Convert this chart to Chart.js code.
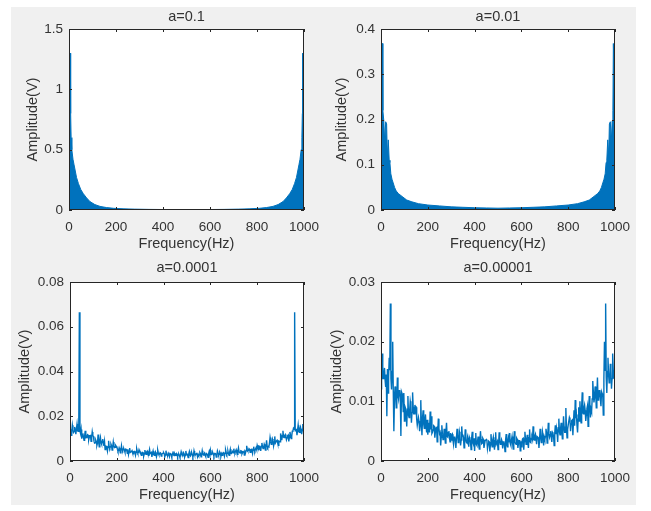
<!DOCTYPE html>
<html><head><meta charset="utf-8">
<script src="https://cdn.jsdelivr.net/npm/chart.js@4.4.1/dist/chart.umd.min.js"></script>
<style>
html,body{margin:0;padding:0;background:#fff;}
#wrap{position:relative;width:651px;height:511px;overflow:hidden;background:#fff;}
#fig{position:absolute;left:11px;top:7px;width:625px;height:498px;background:#f0f0f0;}
canvas{position:absolute;left:0;top:0;}
</style></head><body>
<div id="wrap"><div id="fig"></div>
<canvas id="c1" width="651" height="511"></canvas>
<canvas id="c2" width="651" height="511"></canvas>
<canvas id="c3" width="651" height="511"></canvas>
<canvas id="c4" width="651" height="511"></canvas>
</div>
<script>
// ---------- data ----------
const titles = ['a=0.1', 'a=0.01', 'a=0.0001', 'a=0.00001'];
const xTitle = 'Frequency(Hz)';
const yTitle = 'Amplitude(V)';
const xTickVals = [0, 200, 400, 600, 800, 1000];
const xTickLabels = ['0', '200', '400', '600', '800', '1000'];

const yTickValsA = [0, 0.5, 1, 1.5];
const yTickLabelsA = ['0', '0.5', '1', '1.5'];
const yTickValsB = [0, 0.1, 0.2, 0.3, 0.4];
const yTickLabelsB = ['0', '0.1', '0.2', '0.3', '0.4'];
const yTickValsC = [0, 0.02, 0.04, 0.06, 0.08];
const yTickLabelsC = ['0', '0.02', '0.04', '0.06', '0.08'];
const yTickValsD = [0, 0.01, 0.02, 0.03];
const yTickLabelsD = ['0', '0.01', '0.02', '0.03'];

// a=0.1 (envelope of the dense spectrum)
const freqA = [0,4,6,7,9,12,17,21,25,32,40,50,61,75,89,110,132,160,190,230,280,340,400,450,500,
  550,600,660,720,770,810,840,868,890,911,925,939,950,960,968,975,979,983,988,991,993,994,996,1000];
const ampA = [0.62,0.62,1.30,0.80,0.60,0.50,0.42,0.38,0.34,0.27,0.22,0.17,0.135,0.10,0.07,0.045,0.03,0.02,0.014,0.010,0.007,0.005,0.004,0.0035,0.003,
  0.0035,0.004,0.005,0.007,0.010,0.014,0.02,0.03,0.045,0.07,0.10,0.135,0.17,0.22,0.27,0.34,0.38,0.42,0.50,0.60,0.80,1.30,0.62,0.62];

// a=0.01
const freqB = [0,3,6,8,12,16,20,24,27,31,35,38,42,47,52,58,65,75,90,110,132,160,200,250,300,350,400,450,500,
  550,600,650,700,750,800,840,868,890,910,925,935,942,948,953,958,962,965,969,973,976,980,984,988,991,993,996,1000];
const ampB = [0.12,0.30,0.368,0.22,0.197,0.15,0.195,0.19,0.12,0.155,0.11,0.105,0.08,0.068,0.06,0.05,0.042,0.036,0.03,0.022,0.018,0.014,0.011,0.009,0.007,0.006,0.005,0.0045,0.004,
  0.0045,0.005,0.006,0.007,0.009,0.011,0.014,0.018,0.022,0.03,0.036,0.042,0.05,0.06,0.068,0.08,0.105,0.11,0.155,0.12,0.19,0.195,0.15,0.197,0.22,0.368,0.30,0.12];

// shared fine frequency grid (2.5 Hz) for the two lower panels
const freqFine = [
  0,2.5,5,7.5,10,12.5,15,17.5,20,22.5,25,27.5,30,32.5,35,37.5,40,42.5,45,47.5,
  50,52.5,55,57.5,60,62.5,65,67.5,70,72.5,75,77.5,80,82.5,85,87.5,90,92.5,95,97.5,
  100,102.5,105,107.5,110,112.5,115,117.5,120,122.5,125,127.5,130,132.5,135,137.5,140,142.5,145,147.5,
  150,152.5,155,157.5,160,162.5,165,167.5,170,172.5,175,177.5,180,182.5,185,187.5,190,192.5,195,197.5,
  200,202.5,205,207.5,210,212.5,215,217.5,220,222.5,225,227.5,230,232.5,235,237.5,240,242.5,245,247.5,
  250,252.5,255,257.5,260,262.5,265,267.5,270,272.5,275,277.5,280,282.5,285,287.5,290,292.5,295,297.5,
  300,302.5,305,307.5,310,312.5,315,317.5,320,322.5,325,327.5,330,332.5,335,337.5,340,342.5,345,347.5,
  350,352.5,355,357.5,360,362.5,365,367.5,370,372.5,375,377.5,380,382.5,385,387.5,390,392.5,395,397.5,
  400,402.5,405,407.5,410,412.5,415,417.5,420,422.5,425,427.5,430,432.5,435,437.5,440,442.5,445,447.5,
  450,452.5,455,457.5,460,462.5,465,467.5,470,472.5,475,477.5,480,482.5,485,487.5,490,492.5,495,497.5,
  500,502.5,505,507.5,510,512.5,515,517.5,520,522.5,525,527.5,530,532.5,535,537.5,540,542.5,545,547.5,
  550,552.5,555,557.5,560,562.5,565,567.5,570,572.5,575,577.5,580,582.5,585,587.5,590,592.5,595,597.5,
  600,602.5,605,607.5,610,612.5,615,617.5,620,622.5,625,627.5,630,632.5,635,637.5,640,642.5,645,647.5,
  650,652.5,655,657.5,660,662.5,665,667.5,670,672.5,675,677.5,680,682.5,685,687.5,690,692.5,695,697.5,
  700,702.5,705,707.5,710,712.5,715,717.5,720,722.5,725,727.5,730,732.5,735,737.5,740,742.5,745,747.5,
  750,752.5,755,757.5,760,762.5,765,767.5,770,772.5,775,777.5,780,782.5,785,787.5,790,792.5,795,797.5,
  800,802.5,805,807.5,810,812.5,815,817.5,820,822.5,825,827.5,830,832.5,835,837.5,840,842.5,845,847.5,
  850,852.5,855,857.5,860,862.5,865,867.5,870,872.5,875,877.5,880,882.5,885,887.5,890,892.5,895,897.5,
  900,902.5,905,907.5,910,912.5,915,917.5,920,922.5,925,927.5,930,932.5,935,937.5,940,942.5,945,947.5,
  950,952.5,955,957.5,960,962.5,965,967.5,970,972.5,975,977.5,980,982.5,985,987.5,990,992.5,995,997.5,
  1000];

// a=0.0001
const ampC = [
  .0141,.0142,.0115,.0134,.0160,.0140,.0128,.0132,.0152,.0138,.0120,.0144,.0165,.0135,.0133,.0142,.0665,.0134,.0123,.0141,
  .0100,.0114,.0123,.0106,.0093,.0112,.0135,.0104,.0105,.0110,.0118,.0116,.0095,.0107,.0113,.0114,.0088,.0106,.0130,.0113,
  .0110,.0089,.0080,.0081,.0093,.0086,.0070,.0080,.0118,.0085,.0063,.0090,.0105,.0083,.0075,.0089,.0098,.0081,.0068,.0087,
  .0051,.0067,.0066,.0061,.0045,.0065,.0090,.0060,.0056,.0064,.0075,.0068,.0049,.0062,.0085,.0067,.0060,.0061,.0070,.0066,
  .0064,.0053,.0043,.0047,.0059,.0051,.0037,.0046,.0068,.0050,.0046,.0054,.0055,.0048,.0039,.0053,.0052,.0047,.0034,.0052,
  .0030,.0044,.0058,.0038,.0038,.0042,.0046,.0037,.0032,.0041,.0043,.0045,.0027,.0039,.0055,.0044,.0035,.0038,.0050,.0043,
  .0041,.0039,.0026,.0033,.0038,.0037,.0022,.0032,.0049,.0036,.0030,.0040,.0044,.0034,.0025,.0039,.0052,.0033,.0033,.0038,
  .0018,.0035,.0045,.0029,.0026,.0033,.0040,.0028,.0021,.0032,.0048,.0036,.0029,.0030,.0037,.0035,.0022,.0029,.0034,.0034,
  .0038,.0033,.0019,.0027,.0046,.0031,.0027,.0026,.0035,.0030,.0020,.0034,.0032,.0028,.0016,.0033,.0043,.0027,.0024,.0032,
  .0026,.0032,.0034,.0026,.0019,.0030,.0031,.0025,.0015,.0029,.0042,.0033,.0023,.0027,.0037,.0032,.0018,.0026,.0045,.0031,
  .0031,.0026,.0015,.0032,.0042,.0027,.0023,.0031,.0037,.0029,.0018,.0025,.0045,.0033,.0026,.0026,.0034,.0032,.0019,.0030,
  .0024,.0027,.0038,.0033,.0019,.0028,.0046,.0032,.0027,.0030,.0035,.0026,.0020,.0034,.0032,.0027,.0016,.0033,.0043,.0031,
  .0048,.0029,.0029,.0035,.0037,.0030,.0022,.0034,.0034,.0032,.0018,.0028,.0045,.0036,.0026,.0029,.0040,.0035,.0021,.0033,
  .0026,.0033,.0038,.0039,.0022,.0034,.0049,.0038,.0030,.0036,.0044,.0032,.0025,.0040,.0052,.0033,.0033,.0039,.0041,.0037,
  .0055,.0038,.0035,.0044,.0050,.0039,.0030,.0043,.0058,.0041,.0038,.0037,.0046,.0045,.0032,.0038,.0043,.0044,.0027,.0042,
  .0037,.0047,.0068,.0053,.0046,.0048,.0055,.0052,.0039,.0050,.0052,.0046,.0034,.0054,.0064,.0047,.0043,.0053,.0059,.0051,
  .0070,.0061,.0051,.0067,.0066,.0062,.0045,.0066,.0081,.0064,.0056,.0060,.0075,.0068,.0049,.0061,.0092,.0067,.0060,.0065,
  .0063,.0081,.0105,.0089,.0075,.0082,.0098,.0088,.0068,.0085,.0110,.0080,.0080,.0090,.0093,.0081,.0070,.0089,.0088,.0086,
  .0123,.0106,.0093,.0114,.0135,.0107,.0105,.0113,.0118,.0110,.0095,.0104,.0113,.0116,.0088,.0106,.0130,.0114,.0100,.0111,
  .0133,.0134,.0146,.0142,.0665,.0135,.0141,.0141,.0115,.0138,.0160,.0132,.0128,.0144,.0152,.0134,.0120,.0142,.0165,.0139,
  .0160];

// a=0.00001
const ampD = [
  .0121,.0152,.0180,.0138,.0138,.0147,.0156,.0136,.0124,.0145,.0075,.0154,.0114,.0140,.0173,.0152,.0264,.0138,.0120,.0150,
  .0200,.0116,.0050,.0104,.0125,.0112,.0089,.0102,.0140,.0110,.0104,.0118,.0119,.0106,.0042,.0116,.0113,.0104,.0083,.0114,
  .0067,.0091,.0088,.0079,.0058,.0087,.0109,.0077,.0073,.0085,.0100,.0093,.0064,.0081,.0115,.0091,.0079,.0079,.0094,.0089,
  .0090,.0070,.0060,.0060,.0073,.0067,.0050,.0059,.0102,.0065,.0043,.0072,.0085,.0062,.0055,.0070,.0078,.0060,.0048,.0069,
  .0044,.0056,.0064,.0048,.0083,.0053,.0075,.0046,.0048,.0052,.0059,.0058,.0039,.0049,.0055,.0056,.0032,.0048,.0071,.0055,
  .0046,.0048,.0026,.0040,.0060,.0045,.0036,.0039,.0054,.0044,.0030,.0049,.0064,.0041,.0040,.0048,.0050,.0040,.0032,.0047,
  .0035,.0043,.0045,.0035,.0028,.0040,.0041,.0034,.0022,.0039,.0054,.0044,.0031,.0036,.0049,.0043,.0026,.0035,.0058,.0042,
  .0044,.0039,.0022,.0031,.0053,.0036,.0031,.0030,.0040,.0035,.0024,.0040,.0037,.0032,.0019,.0039,.0049,.0031,.0028,.0038,
  .0017,.0036,.0047,.0028,.0026,.0033,.0041,.0027,.0020,.0032,.0050,.0037,.0029,.0030,.0038,.0036,.0022,.0028,.0034,.0034,
  .0036,.0034,.0021,.0028,.0033,.0032,.0016,.0027,.0045,.0031,.0024,.0035,.0040,.0029,.0019,.0034,.0048,.0028,.0028,.0033,
  .0019,.0028,.0048,.0034,.0028,.0029,.0036,.0033,.0021,.0031,.0033,.0027,.0016,.0035,.0045,.0028,.0024,.0034,.0040,.0032,
  .0047,.0029,.0026,.0035,.0041,.0030,.0020,.0034,.0050,.0032,.0029,.0028,.0038,.0036,.0022,.0029,.0034,.0035,.0017,.0033,
  .0024,.0032,.0037,.0038,.0019,.0033,.0049,.0037,.0028,.0035,.0044,.0031,.0022,.0039,.0053,.0032,.0031,.0038,.0040,.0036,
  .0058,.0036,.0035,.0042,.0045,.0037,.0028,.0041,.0041,.0039,.0022,.0035,.0054,.0043,.0031,.0036,.0049,.0042,.0026,.0040,
  .0036,.0041,.0054,.0047,.0030,.0042,.0064,.0046,.0040,.0044,.0050,.0040,.0032,.0048,.0046,.0041,.0026,.0047,.0060,.0045,
  .0055,.0048,.0032,.0056,.0071,.0049,.0044,.0055,.0064,.0052,.0037,.0046,.0075,.0058,.0048,.0048,.0089,.0056,.0039,.0053,
  .0060,.0060,.0073,.0070,.0050,.0062,.0068,.0069,.0043,.0065,.0085,.0059,.0102,.0072,.0078,.0060,.0048,.0070,.0090,.0067,
  .0100,.0079,.0064,.0091,.0115,.0081,.0079,.0089,.0094,.0085,.0067,.0077,.0088,.0093,.0058,.0079,.0109,.0091,.0073,.0087,
  .0083,.0104,.0134,.0116,.0098,.0106,.0125,.0114,.0089,.0110,.0140,.0102,.0104,.0118,.0119,.0104,.0092,.0116,.0113,.0112,
  .0077,.0138,.0200,.0152,.0264,.0140,.0114,.0150,.0173,.0145,.0131,.0136,.0163,.0154,.0121,.0138,.0180,.0152,.0138,.0147,
  .0150];

// ---------- rendering ----------
const BLUE = '#0072BD';
const AXIS = '#262626';
const TEXT = '#333333';
const FAMILY = '"Liberation Sans", Arial, Helvetica, sans-serif';
Chart.defaults.font.family = FAMILY;

const matlabBox = {
  id: 'matlabBox',
  beforeDraw(chart) {
    const {ctx, chartArea: a} = chart;
    ctx.save();
    ctx.fillStyle = '#ffffff';
    ctx.fillRect(a.left, a.top, a.right - a.left, a.bottom - a.top);
    ctx.restore();
  },
  afterDatasetsDraw(chart) {
    const {ctx, chartArea: a, scales} = chart;
    const x = scales.x, y = scales.y;
    ctx.save();
    ctx.strokeStyle = AXIS;
    ctx.lineWidth = 1;
    ctx.strokeRect(a.left + 0.5, a.top + 0.5, a.right - a.left - 1, a.bottom - a.top - 1);
    ctx.beginPath();
    x.ticks.forEach(t => {
      const px = Math.round(x.getPixelForValue(t.value)) + 0.5;
      ctx.moveTo(px, a.bottom); ctx.lineTo(px, a.bottom - 3);
      ctx.moveTo(px, a.top); ctx.lineTo(px, a.top + 3);
    });
    y.ticks.forEach(t => {
      const py = Math.round(y.getPixelForValue(t.value)) + 0.5;
      ctx.moveTo(a.left, py); ctx.lineTo(a.left + 3, py);
      ctx.moveTo(a.right, py); ctx.lineTo(a.right - 3, py);
    });
    ctx.stroke();
    ctx.restore();
  }
};

function panel(id, p) {
  const TITLE_SIZE = 14.5, LH = TITLE_SIZE * 1.2;
  const padLeft = p.yTitleX - 8.7;
  const padTop = p.titleY - LH / 2;
  const xh = 43;
  const points = p.freq.map((f, i) => ({x: f, y: p.amp[i]}));
  new Chart(document.getElementById(id), {
    type: 'line',
    data: {datasets: [{
      data: points,
      borderColor: BLUE,
      backgroundColor: BLUE,
      borderWidth: p.fill ? 1 : 1.4,
      pointRadius: 0,
      tension: 0,
      fill: p.fill ? 'origin' : false
    }]},
    options: {
      responsive: false,
      animation: false,
      events: [],
      layout: {padding: {left: padLeft, top: padTop, right: 651 - p.r, bottom: 511 - p.b - xh}},
      plugins: {
        legend: {display: false},
        tooltip: {enabled: false},
        title: {
          display: true, text: p.title, fullSize: false, color: TEXT,
          font: {size: TITLE_SIZE, weight: 'normal', family: FAMILY, lineHeight: 1.2},
          padding: {top: 0, bottom: p.t - padTop - LH}
        }
      },
      scales: {
        x: {
          type: 'linear', min: 0, max: 1000,
          grid: {display: false, drawTicks: false},
          border: {display: false},
          afterBuildTicks: s => { s.ticks = xTickVals.map(v => ({value: v})); },
          afterFit: s => { s.height = xh; },
          ticks: {
            color: TEXT, font: {size: 13.5}, padding: 9, autoSkip: false, maxRotation: 0,
            callback: (v, i) => xTickLabels[i]
          },
          title: {display: true, text: xTitle, color: TEXT, font: {size: 14.5, lineHeight: 1.2}, padding: 0}
        },
        y: {
          type: 'linear', min: 0, max: p.yVals[p.yVals.length - 1],
          grid: {display: false, drawTicks: false},
          border: {display: false},
          afterBuildTicks: s => { s.ticks = p.yVals.map(v => ({value: v})); },
          afterFit: s => { s.width = p.l - padLeft; },
          ticks: {
            color: TEXT, font: {size: 13.5}, padding: 6, autoSkip: false,
            callback: (v, i) => p.yLabels[i]
          },
          title: {display: true, text: yTitle, color: TEXT, font: {size: 14.5, lineHeight: 1.2}, padding: 0}
        }
      }
    },
    plugins: [matlabBox]
  });
}

panel('c1', {title: titles[0], freq: freqA, amp: ampA, yVals: yTickValsA, yLabels: yTickLabelsA, fill: true,
  l: 69, t: 29, r: 304, b: 210, titleY: 17, yTitleX: 33});
panel('c2', {title: titles[1], freq: freqB, amp: ampB, yVals: yTickValsB, yLabels: yTickLabelsB, fill: true,
  l: 381, t: 29, r: 615, b: 210, titleY: 17, yTitleX: 342});
panel('c3', {title: titles[2], freq: freqFine, amp: ampC, yVals: yTickValsC, yLabels: yTickLabelsC, fill: false,
  l: 70, t: 282, r: 304, b: 461, titleY: 268, yTitleX: 25});
panel('c4', {title: titles[3], freq: freqFine, amp: ampD, yVals: yTickValsD, yLabels: yTickLabelsD, fill: false,
  l: 381, t: 282, r: 615, b: 461, titleY: 268, yTitleX: 337});
</script>
</body></html>
